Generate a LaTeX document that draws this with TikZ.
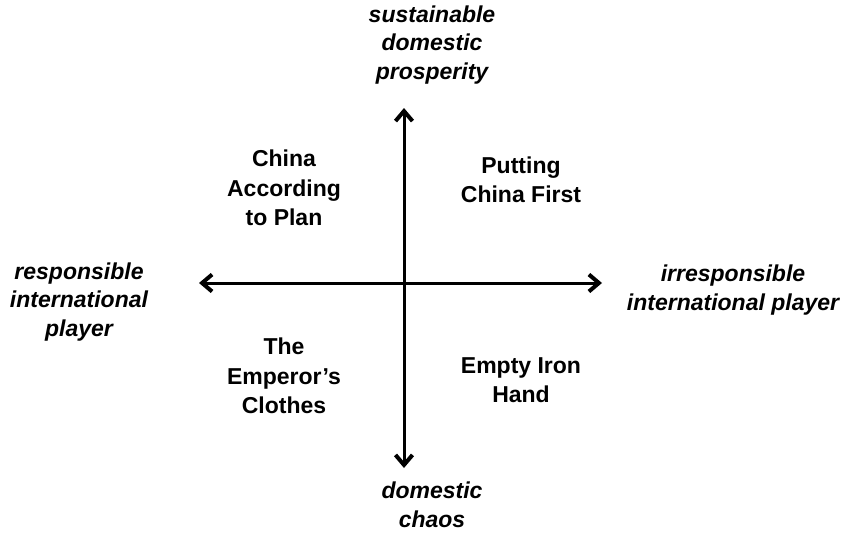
\documentclass[tikz,border=0pt]{standalone}
\usepackage{fontspec}
\setmainfont{Liberation Sans}
\usetikzlibrary{arrows.meta}
\begin{document}
\begin{tikzpicture}[x=1pt,y=-1pt,
  quad/.style={align=center, font=\bfseries\fontsize{23}{29.5}\selectfont, inner sep=0pt},
  axislabel/.style={align=center, font=\bfseries\itshape\fontsize{23}{28.5}\selectfont, inner sep=0pt},
  axistip/.tip={Straight Barb[length=10pt,width=17pt,line width=4pt]},
  axis/.style={line width=3pt, axistip-axistip}]
\useasboundingbox (0,0) rectangle (846,533);
\coordinate (top) at (404,108);
\coordinate (bot) at (404,468);
\coordinate (lft) at (199,283);
\coordinate (rgt) at (602,283);
\draw[axis] (top) -- (bot);
\draw[axis] (lft) -- (rgt);
\node[axislabel] (prosper) at (432,45) {sustainable\\domestic\\prosperity};
\node[axislabel] (chaos) at (432,505) {domestic\\chaos};
\node[axislabel] (resp) at (79,302) {responsible\\international\\player};
\node[axislabel] (irresp) at (733,290) {irresponsible\\international player};
\node[quad] (plan) at (284,188) {China\\According\\to Plan};
\node[quad] (first) at (521,180) {Putting\\China First};
\node[quad] (emperor) at (284,376) {The\\Emperor’s\\Clothes};
\node[quad] (iron) at (521,380) {Empty Iron\\Hand};
\end{tikzpicture}
\end{document}
